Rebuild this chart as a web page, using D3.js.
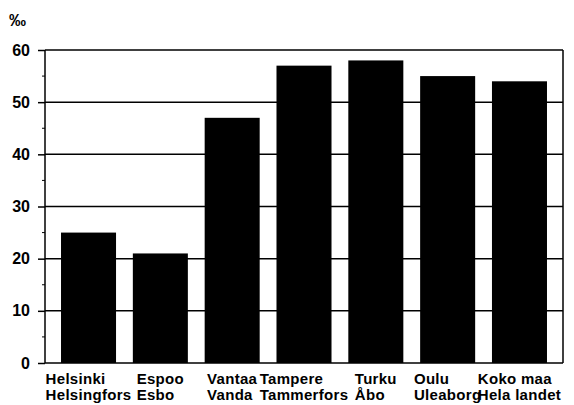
<!DOCTYPE html>
<html>
<head>
<meta charset="utf-8">
<script src="https://cdn.jsdelivr.net/npm/d3@7"></script>
<style>
  body { margin: 0; background: #fff; }
  svg text { font-family: "Liberation Sans", Arial, sans-serif; font-weight: bold; fill: #000; }
</style>
</head>
<body>
<div id="chart"></div>
<script>
// values in per mille
var names1 = ["Helsinki", "Espoo", "Vantaa", "Tampere", "Turku", "Oulu", "Koko maa"];
var names2 = ["Helsingfors", "Esbo", "Vanda", "Tammerfors", "Åbo", "Uleaborg", "Hela landet"];
var values = [25, 21, 47, 57, 58, 55, 54];
var yTicks = [0, 10, 20, 30, 40, 50, 60];
var yMinor = [5, 15, 25, 35, 45, 55];

var W = 574, H = 405;
var pLeft = 45, pRight = 563, pTop = 50, pBottom = 363;

var svg = d3.select("#chart").append("svg")
    .attr("width", W).attr("height", H);

var x = d3.scaleBand()
    .domain(names1)
    .range([pLeft, pRight])
    .paddingInner(0.234)
    .paddingOuter(0.223);

var y = d3.scaleLinear().domain([0, 60]).range([pBottom, pTop]);

// gridlines behind the bars
svg.append("g").selectAll("line")
    .data(yTicks)
    .enter().append("line")
    .attr("x1", pLeft).attr("x2", pRight)
    .attr("y1", function(d){ return y(d); })
    .attr("y2", function(d){ return y(d); })
    .attr("stroke", "#000")
    .attr("stroke-width", 1.5);

// bars
svg.append("g").selectAll("rect")
    .data(values)
    .enter().append("rect")
    .attr("x", function(d, i){ return x(names1[i]); })
    .attr("y", function(d){ return y(d); })
    .attr("width", x.bandwidth())
    .attr("height", function(d){ return y(0) - y(d); })
    .attr("fill", "#000");

// frame sides
svg.append("line")
    .attr("x1", pLeft).attr("x2", pLeft).attr("y1", pTop).attr("y2", pBottom)
    .attr("stroke", "#000").attr("stroke-width", 1.5);
svg.append("line")
    .attr("x1", pRight).attr("x2", pRight).attr("y1", pTop).attr("y2", pBottom)
    .attr("stroke", "#000").attr("stroke-width", 1.5);

// left axis with major ticks
var yAxis = d3.axisLeft(y)
    .tickValues(yTicks)
    .tickSize(7)
    .tickPadding(8);
var ag = svg.append("g")
    .attr("transform", "translate(" + pLeft + ",0)")
    .call(yAxis);
ag.select(".domain").remove();
ag.selectAll(".tick line").attr("stroke", "#000").attr("stroke-width", 1.5);
ag.selectAll(".tick text")
    .style("font-size", "16px")
    .style("font-family", "'Liberation Sans', Arial, sans-serif")
    .style("font-weight", "bold");

// minor ticks
svg.append("g").selectAll("line")
    .data(yMinor)
    .enter().append("line")
    .attr("x1", pLeft - 3).attr("x2", pLeft)
    .attr("y1", function(d){ return y(d); })
    .attr("y2", function(d){ return y(d); })
    .attr("stroke", "#000").attr("stroke-width", 1);

// unit label
svg.append("text")
    .attr("x", 9).attr("y", 26)
    .style("font-size", "17px")
    .text("‰");

// two-line category labels, block centred on the bar, lines left aligned
var lab = svg.append("g").selectAll("text")
    .data(names1)
    .enter().append("text")
    .style("font-size", "15px")
    .style("letter-spacing", "0.3px");
lab.append("tspan").attr("class", "l1").attr("y", 384).text(function(d){ return d; });
lab.append("tspan").attr("class", "l2").attr("y", 400).text(function(d, i){ return names2[i]; });
lab.each(function(d){
    var t = d3.select(this);
    var w1 = t.select(".l1").node().getComputedTextLength();
    var w2 = t.select(".l2").node().getComputedTextLength();
    var w = Math.max(w1, w2);
    var x0 = x(d) + x.bandwidth() / 2 - w / 2;
    x0 = Math.max(45, Math.min(x0, W - 1 - w));
    t.selectAll("tspan").attr("x", x0);
});
</script>
</body>
</html>
